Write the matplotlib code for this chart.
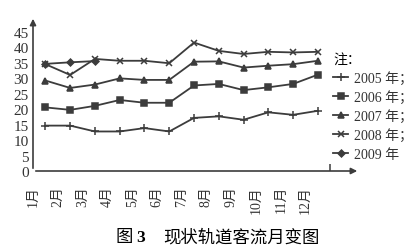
import numpy as np
import matplotlib
matplotlib.use('Agg')
import matplotlib.pyplot as plt

plt.rcParams['font.family'] = ['Liberation Serif', 'Noto Sans CJK SC']

months = ['1月', '2月', '3月', '4月', '5月', '6月',
          '7月', '8月', '9月', '10月', '11月', '12月']
y2005 = [14.7, 14.7, 12.8, 12.8, 13.9, 12.8, 17.2, 17.7, 16.6, 19.0, 18.2, 19.5]
y2006 = [20.6, 19.8, 21.1, 23.0, 22.1, 22.1, 27.7, 28.2, 26.2, 27.1, 28.2, 31.2]
y2007 = [29.3, 26.9, 28.0, 30.0, 29.5, 29.5, 35.4, 35.5, 33.5, 34.1, 34.6, 35.7]
y2008 = [34.6, 31.1, 36.3, 35.7, 35.7, 34.9, 41.6, 38.9, 37.9, 38.6, 38.4, 38.6]
y2009 = [34.7, 35.2, 35.6]
years = ['2005 年；', '2006 年；', '2007 年；', '2008 年；', '2009 年']

col = '#3c3c3c'

fig = plt.figure(figsize=(4.2, 2.53), dpi=100)
ax = fig.add_axes([33/420, 1-172/253, (360-33)/420, (172-17)/253])

x = np.arange(12) + 0.5
series = [y2005, y2006, y2007, y2008, y2009]
markers = ['+', 's', '^', 'x', 'D']
msizes = [6, 4.5, 4, 5, 3.5]
for vals, m, ms, lab in zip(series, markers, msizes, years):
    ax.plot(x[:len(vals)], vals, color=col, lw=1.3, marker=m, ms=ms,
            mew=1.1, label=lab)

ax.set_xlim(0, 13.2)
ax.set_ylim(0, 50.2)
for s in ax.spines.values():
    s.set_visible(False)
ax.annotate('', xy=(1, 0), xytext=(0, 0), xycoords='axes fraction',
            arrowprops=dict(arrowstyle='-|>', color=col, lw=1.2,
                            mutation_scale=9))
ax.annotate('', xy=(0, 1), xytext=(0, 0), xycoords='axes fraction',
            arrowprops=dict(arrowstyle='-|>', color=col, lw=1.2,
                            mutation_scale=9))

ax.set_yticks(np.arange(0, 50, 5))
ax.tick_params(axis='y', length=0, pad=3, labelsize=11, colors='#333333')
ax.set_xticks(np.arange(12))
ax.set_xticklabels(months, rotation=90, fontsize=10, color='#333333')
ax.tick_params(axis='x', which='major', length=0, pad=10)
ax.set_xticks(np.arange(1, 13), minor=True)
ax.tick_params(axis='x', which='minor', length=5, width=1.1,
               direction='in', color=col)

leg = ax.legend(loc='upper left', bbox_to_anchor=(333/420, 1-54/253),
                bbox_transform=fig.transFigure, frameon=False, title='注：',
                fontsize=10, title_fontsize=10, handlelength=1.1,
                handletextpad=0.4, labelspacing=0.38, borderpad=0,
                borderaxespad=0)
leg._legend_box.align = 'left'
for t in leg.get_texts():
    t.set_color('#333333')

fig.text(115/420, 1-238/253, '图', fontsize=12.5, va='center', ha='left')
fig.text(136/420, 1-238/253, '3', fontsize=12.5, fontweight='bold',
         va='center', ha='left')
fig.text(163/420, 1-238/253, '现状轨道客流月变图', fontsize=12.5,
         va='center', ha='left')

fig.savefig('out.png', dpi=100)
